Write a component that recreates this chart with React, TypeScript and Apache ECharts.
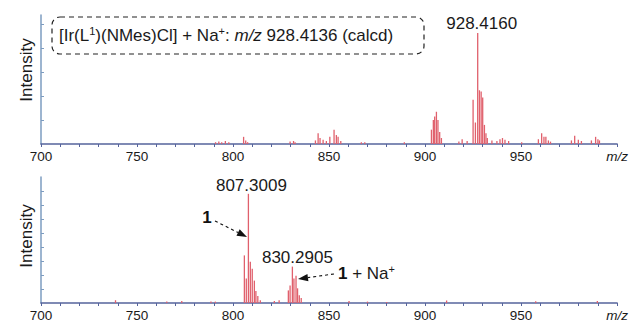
import React, { useEffect, useRef } from "react";
import * as echarts from "echarts";

// ---- data ----
const xTickLabels = [700, 750, 800, 850, 900, 950];

const topMz = [790.9, 792.6, 794.1, 796.0, 797.8, 805.5, 806.6, 807.6, 829.7, 831.5, 832.3, 842.9, 844.3, 845.3, 846.9, 848.6, 850.4, 852.6, 853.8, 854.7, 856.1, 866.8, 868.6, 889.2, 903.3, 904.3, 905.0, 905.9, 906.7, 907.6, 908.5, 917.6, 919.3, 921.9, 925.0, 926.2, 927.4, 928.3, 929.2, 930.0, 930.9, 931.7, 932.4, 934.8, 937.4, 939.0, 940.3, 941.6, 943.5, 950.3, 959.0, 960.7, 961.9, 962.9, 964.2, 965.3, 976.2, 977.9, 979.8, 981.4, 986.6, 988.8, 990.0, 990.8];
const topIntensity = [1.5, 2, 1.5, 2.5, 1.5, 6, 3, 1.5, 2, 2.5, 1.5, 3, 9, 5, 3.5, 2.5, 6, 12, 7.5, 6, 2.5, 1.5, 1.5, 1.5, 12, 20, 23, 27, 20, 10, 5, 2, 4, 2.5, 37, 18, 93, 45, 44, 39, 16, 9, 5, 3, 2.5, 4, 5, 3.5, 2.5, 1.5, 4, 9, 6, 6, 3, 2, 3, 7, 3.5, 2.5, 3, 6, 4, 3];

const bottomMz = [738.8, 765.5, 773.3, 788.5, 790.8, 805.9, 806.9, 808.0, 809.0, 810.0, 811.1, 811.9, 812.9, 814.2, 821.5, 824.0, 828.8, 829.7, 830.9, 831.7, 832.8, 833.6, 834.5, 835.5, 860.4, 870.0, 880.0, 911.2, 957.6, 989.7];
const bottomIntensity = [2, 1, 1.5, 1, 1, 34, 17.5, 78, 29.5, 24.5, 16, 8.5, 5, 2, 1.5, 2, 9, 12.5, 26, 17.5, 19.5, 10.5, 5.5, 3.5, 1.5, 1, 0.8, 1.8, 1.3, 1.5];

// peak annotations: [m/z of the stick, label text]
const topPeakLabels: [number, string][] = [[927.4, "928.4160"]];
const bottomPeakLabels: [number, string][] = [[808.0, "807.3009"], [830.9, "830.2905"]];

const boxText = "[Ir(L{sup|1})(NMes)Cl] + Na{sup|+}: {i|m/z} 928.4136 (calcd)";

const FONT = "Arial, 'Liberation Sans', Helvetica, sans-serif";
const STICK = "#e0606c";
const AXIS_X = "#56649c";
const AXIS_Y = "#7d9cc0";
const TXT = "#1a1a1a";

function buildData(mz: number[], inten: number[], labels: [number, string][], offsets: number[][], dists: number[]) {
  return mz.map((m, i) => {
    const li = labels.findIndex((l) => l[0] === m);
    if (li >= 0) {
      return {
        value: [m, inten[i]],
        label: {
          show: true,
          position: "top",
          formatter: labels[li][1],
          fontSize: 17,
          fontFamily: FONT,
          color: TXT,
          distance: dists[li],
          offset: offsets[li],
        },
      };
    }
    return { value: [m, inten[i]] };
  });
}

function xAxisCfg(gridIndex: number) {
  return {
    type: "value",
    gridIndex,
    min: 700,
    max: 1000,
    interval: 10,
    axisLine: { show: true, lineStyle: { color: AXIS_X, width: 1.5 } },
    axisTick: { show: true, length: 3, lineStyle: { color: AXIS_X, width: 1 } },
    splitLine: { show: false },
    axisLabel: {
      margin: 5,
      fontSize: 13.5,
      fontFamily: FONT,
      color: TXT,
      formatter: (v: number) => {
        if (v === 1000) return "{i|m/z}";
        return xTickLabels.includes(v) ? String(v) : "";
      },
      rich: { i: { fontStyle: "italic", fontSize: 13.5, fontFamily: FONT, color: TXT } },
    },
  };
}

function yAxisCfg(gridIndex: number, max: number, ticks: number[]) {
  return {
    type: "value",
    gridIndex,
    min: 0,
    max,
    axisLine: { show: true, lineStyle: { color: AXIS_Y, width: 1.5 } },
    axisTick: { show: true, inside: true, length: 3, customValues: ticks, lineStyle: { color: AXIS_Y } },
    axisLabel: { show: false },
    splitLine: { show: false },
  };
}

function arrow(x1: number, y1: number, x2: number, y2: number) {
  const dx = x2 - x1;
  const dy = y2 - y1;
  const len = Math.sqrt(dx * dx + dy * dy);
  const ux = dx / len;
  const uy = dy / len;
  const hl = 10;
  const hw = 3.6;
  const bx = x2 - ux * hl;
  const by = y2 - uy * hl;
  const px = -uy;
  const py = ux;
  return [
    {
      type: "line",
      shape: { x1, y1, x2: bx, y2: by },
      style: { stroke: "#111", lineWidth: 1.1, lineDash: [3, 3] },
    },
    {
      type: "polygon",
      shape: { points: [[x2, y2], [bx + px * hw, by + py * hw], [bx - px * hw, by - py * hw]] },
      style: { fill: "#111" },
    },
  ];
}

export default function App() {
  const ref = useRef<HTMLDivElement>(null);
  useEffect(() => {
    document.body.style.margin = "0";
    if (!ref.current) return;
    const chart = echarts.init(ref.current, null, { renderer: "svg" });
    chart.setOption({
      animation: false,
      textStyle: { fontFamily: FONT },
      grid: [
        { left: 41, width: 580, top: 15, height: 129 },
        { left: 41, width: 580, top: 177, height: 128 },
      ],
      xAxis: [xAxisCfg(0), xAxisCfg(1)],
      yAxis: [yAxisCfg(0, 108, [20, 40, 60, 80, 100]), yAxisCfg(1, 90, [10, 20, 30, 40, 50, 60, 70, 80])],
      series: [
        {
          type: "bar",
          xAxisIndex: 0,
          yAxisIndex: 0,
          barWidth: 1.3,
          itemStyle: { color: STICK },
          data: buildData(topMz, topIntensity, topPeakLabels, [[4, 0]], [1]),
        },
        {
          type: "bar",
          xAxisIndex: 1,
          yAxisIndex: 1,
          barWidth: 1.3,
          itemStyle: { color: STICK },
          data: buildData(bottomMz, bottomIntensity, bottomPeakLabels, [[3, 0], [5, 0]], [0, 1]),
        },
      ],
      graphic: [
        {
          type: "text",
          x: 26,
          y: 70,
          rotation: Math.PI / 2,
          style: { text: "Intensity", fontSize: 17, fontFamily: FONT, fill: TXT, align: "center", verticalAlign: "middle" },
        },
        {
          type: "text",
          x: 26,
          y: 236,
          rotation: Math.PI / 2,
          style: { text: "Intensity", fontSize: 17, fontFamily: FONT, fill: TXT, align: "center", verticalAlign: "middle" },
        },
        {
          type: "rect",
          shape: { x: 52, y: 17, width: 372, height: 37, r: 8 },
          style: { fill: "none", stroke: "#222", lineWidth: 1.2, lineDash: [5, 4] },
        },
        {
          type: "text",
          x: 59,
          y: 35,
          style: {
            text: boxText,
            fontSize: 17,
            fontFamily: FONT,
            fill: TXT,
            verticalAlign: "middle",
            rich: {
              sup: { fontSize: 11, verticalAlign: "top", lineHeight: 20, fontFamily: FONT, fill: TXT },
              i: { fontStyle: "italic", fontSize: 17, fontFamily: FONT, fill: TXT, lineHeight: 20 },
            },
          },
        },
        {
          type: "text",
          x: 207,
          y: 217,
          style: { text: "1", fontSize: 17, fontWeight: "bold", fontFamily: FONT, fill: "#111", align: "center", verticalAlign: "middle" },
        },
        ...arrow(215, 221, 247, 237),
        ...arrow(334, 274, 298, 279),
        {
          type: "text",
          x: 338,
          y: 273,
          style: {
            text: "{b|1} + Na{sup|+}",
            fontSize: 17,
            fontFamily: FONT,
            fill: TXT,
            verticalAlign: "middle",
            rich: {
              b: { fontWeight: "bold", fontSize: 17, fontFamily: FONT, fill: "#111", lineHeight: 20 },
              sup: { fontSize: 11, verticalAlign: "top", lineHeight: 20, fontFamily: FONT, fill: TXT },
            },
          },
        },
      ],
    });
    return () => chart.dispose();
  }, []);
  return <div ref={ref} style={{ width: 631, height: 322 }} />;
}
